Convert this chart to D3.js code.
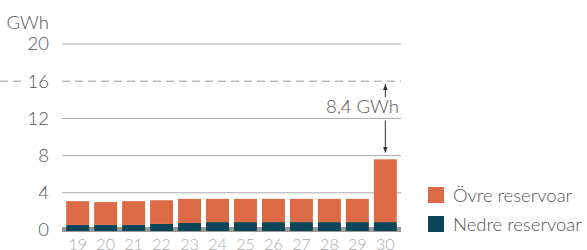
<!DOCTYPE html>
<html>
<head>
<meta charset="utf-8">
<script src="https://cdn.jsdelivr.net/npm/d3@7"></script>
<style>
  body { margin: 0; background: #fff; }
  svg { display: block; font-family: Lato, sans-serif; font-weight: 300; }
</style>
</head>
<body>
<svg id="chart" width="587" height="250"></svg>
<script>
// data
const weeks = ["19", "20", "21", "22", "23", "24", "25", "26", "27", "28", "29", "30"];
const nedre = [0.55, 0.55, 0.55, 0.65, 0.75, 0.85, 0.85, 0.85, 0.85, 0.85, 0.85, 0.85];
const ovre = [2.55, 2.45, 2.55, 2.55, 2.6, 2.5, 2.5, 2.5, 2.5, 2.5, 2.5, 6.75];
const yTicks = [0, 4, 8, 12, 16, 20];
const seriesNames = ["Övre reservoar", "Nedre reservoar"];
const refLevel = 16;
const annotation = "8,4 GWh";

const colors = { ovre: "#dd6a46", nedre: "#0c4658" };

const mLeft = 62, mRight = 401, mTop = 44, mBottom = 230;

const svg = d3.select("#chart");

const x = d3.scaleBand()
  .domain(weeks)
  .range([mLeft, mRight])
  .paddingInner(0.18)
  .paddingOuter(0.15);

const y = d3.scaleLinear()
  .domain([0, 20])
  .range([mBottom, mTop]);

// gridlines
svg.append("g")
  .selectAll("line")
  .data(yTicks.filter(d => d !== 0 && d !== refLevel))
  .join("line")
  .attr("x1", mLeft).attr("x2", mRight)
  .attr("y1", d => y(d)).attr("y2", d => y(d))
  .attr("stroke", "#aaa").attr("stroke-width", 1);

// dashed ref line at 16
svg.append("line")
  .attr("x1", mLeft).attr("x2", mRight)
  .attr("y1", y(refLevel)).attr("y2", y(refLevel))
  .attr("stroke", "#999").attr("stroke-dasharray", "8,5");
svg.append("line")
  .attr("x1", 0).attr("x2", 22)
  .attr("y1", y(refLevel)).attr("y2", y(refLevel))
  .attr("stroke", "#999").attr("stroke-dasharray", "8,5");

// y labels
const yAxis = d3.axisLeft(y).tickValues(yTicks).tickSize(0).tickPadding(0);
svg.append("g")
  .attr("transform", `translate(49,0)`)
  .call(yAxis)
  .call(g => g.select(".domain").remove())
  .call(g => g.selectAll("text")
    .attr("font-family", "Lato, sans-serif")
    .attr("font-size", 18.5)
    .attr("fill", "#555"));

svg.append("text")
  .attr("x", 49).attr("y", 29)
  .attr("text-anchor", "end")
  .attr("font-size", 18.5).attr("fill", "#555")
  .text("GWh");

// baseline band
svg.append("rect")
  .attr("x", mLeft).attr("width", mRight - mLeft)
  .attr("y", y(0) - 3).attr("height", 5)
  .attr("fill", "#999");

// stacked bars
const rows = weeks.map((w, i) => ({ week: w, nedre: nedre[i], ovre: ovre[i] }));
const stack = d3.stack().keys(["nedre", "ovre"])(rows);

svg.append("g")
  .selectAll("g")
  .data(stack)
  .join("g")
  .attr("fill", d => colors[d.key])
  .selectAll("rect")
  .data(d => d)
  .join("rect")
  .attr("x", d => x(d.data.week))
  .attr("width", x.bandwidth())
  .attr("y", d => y(d[1]))
  .attr("height", d => y(d[0]) - y(d[1]) + (d[0] === 0 ? 1 : 0));

// x labels
const xAxis = d3.axisBottom(x).tickSize(0).tickPadding(0);
svg.append("g")
  .attr("transform", `translate(0,${mBottom + 9})`)
  .call(xAxis)
  .call(g => g.select(".domain").remove())
  .call(g => g.selectAll("text")
    .attr("font-family", "Lato, sans-serif")
    .attr("font-size", 16)
    .attr("fill", "#aaa"));

// annotation
const lastWeek = weeks[weeks.length - 1];
const ax = x(lastWeek) + x.bandwidth() / 2;
const lastTotal = nedre[nedre.length - 1] + ovre[ovre.length - 1];

const defs = svg.append("defs");
defs.append("marker")
  .attr("id", "arrow")
  .attr("viewBox", "0 0 10 10")
  .attr("refX", 10).attr("refY", 5)
  .attr("markerWidth", 6).attr("markerHeight", 6)
  .attr("markerUnits", "userSpaceOnUse")
  .attr("orient", "auto")
  .append("path")
  .attr("d", "M0,1 L10,5 L0,9 Z")
  .attr("fill", "#333");

svg.append("line")
  .attr("x1", ax).attr("x2", ax)
  .attr("y1", y(refLevel) + 16).attr("y2", y(refLevel) + 3)
  .attr("stroke", "#333").attr("stroke-width", 1)
  .attr("marker-end", "url(#arrow)");

svg.append("text")
  .attr("x", 399).attr("y", y(refLevel) + 32)
  .attr("text-anchor", "end")
  .attr("font-size", 18.5).attr("fill", "#555")
  .text(annotation);

svg.append("line")
  .attr("x1", ax).attr("x2", ax)
  .attr("y1", y(12) + 2).attr("y2", y(8) - 3)
  .attr("stroke", "#333").attr("stroke-width", 1)
  .attr("marker-end", "url(#arrow)");

// legend
const legend = svg.append("g").attr("transform", "translate(428,187)");
const legendItems = [
  { name: seriesNames[0], color: colors.ovre },
  { name: seriesNames[1], color: colors.nedre }
];
const li = legend.selectAll("g")
  .data(legendItems)
  .join("g")
  .attr("transform", (d, i) => `translate(0,${i * 29})`);
li.append("rect")
  .attr("width", 16).attr("height", 16)
  .attr("fill", d => d.color);
li.append("text")
  .attr("x", 25).attr("y", 14.5)
  .attr("font-size", 18.5).attr("fill", "#555")
  .text(d => d.name);
</script>
</body>
</html>
